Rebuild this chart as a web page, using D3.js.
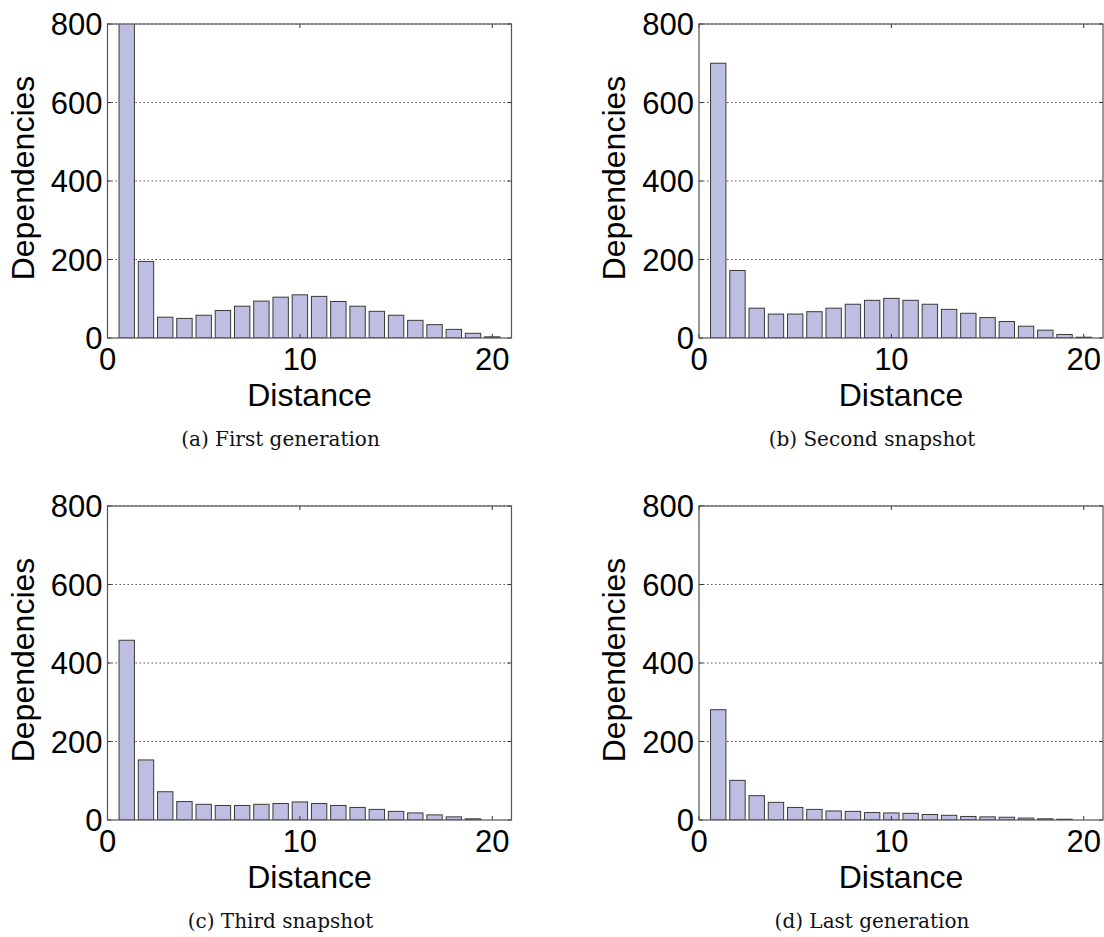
<!DOCTYPE html>
<html>
<head>
<meta charset="utf-8">
<script src="https://cdn.jsdelivr.net/npm/d3@7"></script>
<style>
  body { margin: 0; background: #fff; }
  svg { display: block; }
  .tick-label { font-family: "Liberation Sans", Arial, sans-serif; font-size: 31px; fill: #000; }
  .axis-title { font-family: "Liberation Sans", Arial, sans-serif; font-size: 32px; fill: #000; }
  .caption { font-family: "DejaVu Serif", serif; font-size: 20px; fill: #111; }
</style>
</head>
<body>
<svg id="chart"></svg>
<script>
const distances = [1, 2, 3, 4, 5, 6, 7, 8, 9, 10, 11, 12, 13, 14, 15, 16, 17, 18, 19, 20]
const firstGeneration = [830, 195, 53, 50, 58, 70, 81, 94, 104, 110, 106, 93, 81, 68, 58, 45, 34, 22, 12, 3]
const secondSnapshot = [700, 172, 76, 61, 61, 67, 76, 86, 96, 101, 96, 86, 73, 63, 52, 42, 30, 20, 9, 2]
const thirdSnapshot = [458, 153, 72, 47, 40, 37, 37, 40, 42, 46, 42, 37, 32, 27, 22, 18, 13, 8, 3, 0]
const lastGeneration = [281, 101, 62, 45, 32, 27, 23, 22, 19, 18, 17, 14, 12, 9, 8, 7, 5, 3, 2, 0]
const yTicks = [0, 200, 400, 600, 800]
const xTicks = [0, 10, 20]
const captions = ['(a)  First generation', '(b)  Second snapshot', '(c)  Third snapshot', '(d)  Last generation']

const width = 1104
const height = 937

const svg = d3.select('#chart')
  .attr('width', width)
  .attr('height', height)

// plot box positions (left, top) for each panel
const panels = [
  { left: 107.5, top: 24, values: firstGeneration, caption: captions[0] },
  { left: 699, top: 24, values: secondSnapshot, caption: captions[1] },
  { left: 107.5, top: 506, values: thirdSnapshot, caption: captions[2] },
  { left: 699, top: 506, values: lastGeneration, caption: captions[3] }
]

const plotW = 404
const plotH = 314

panels.forEach((p, i) => drawPanel(p, i))

function drawPanel (p, i) {
  const g = svg.append('g')
    .attr('transform', `translate(${p.left},${p.top})`)

  const x = d3.scaleLinear().domain([0, 21]).range([0, plotW])
  const y = d3.scaleLinear().domain([0, 800]).range([plotH, 0])

  const clipId = 'clip' + i
  g.append('clipPath').attr('id', clipId)
    .append('rect').attr('width', plotW).attr('height', plotH)

  // dotted grid lines
  g.selectAll('.grid')
    .data(yTicks.filter(d => d > 0))
    .enter().append('line')
    .attr('x1', 0)
    .attr('x2', plotW)
    .attr('y1', d => y(d))
    .attr('y2', d => y(d))
    .attr('stroke', '#555')
    .attr('stroke-width', 1)
    .attr('stroke-dasharray', '1.5,2.5')

  // bars
  const barW = x(0.8) - x(0)
  g.append('g').attr('clip-path', `url(#${clipId})`)
    .selectAll('rect')
    .data(distances.map((d, k) => ({ d: d, v: p.values[k] })).filter(b => b.v > 0))
    .enter().append('rect')
    .attr('x', b => x(b.d) - barW / 2)
    .attr('y', b => y(b.v))
    .attr('width', barW)
    .attr('height', b => y(0) - y(b.v))
    .attr('fill', '#bebee3')
    .attr('stroke', '#3a3a3a')
    .attr('stroke-width', 1)

  // inward ticks on all four sides
  const tickLen = 4
  xTicks.forEach(t => {
    g.append('line').attr('x1', x(t)).attr('x2', x(t)).attr('y1', plotH).attr('y2', plotH - tickLen)
      .attr('stroke', '#333')
    g.append('line').attr('x1', x(t)).attr('x2', x(t)).attr('y1', 0).attr('y2', tickLen)
      .attr('stroke', '#333')
  })
  yTicks.forEach(t => {
    g.append('line').attr('x1', 0).attr('x2', tickLen).attr('y1', y(t)).attr('y2', y(t))
      .attr('stroke', '#333')
    g.append('line').attr('x1', plotW).attr('x2', plotW - tickLen).attr('y1', y(t)).attr('y2', y(t))
      .attr('stroke', '#333')
  })

  // box
  g.append('rect')
    .attr('width', plotW)
    .attr('height', plotH)
    .attr('fill', 'none')
    .attr('stroke', '#555')
    .attr('stroke-width', 1.2)

  // tick labels
  g.selectAll('.ylab')
    .data(yTicks)
    .enter().append('text')
    .attr('class', 'tick-label')
    .attr('x', -5)
    .attr('y', d => y(d))
    .attr('dy', '0.36em')
    .attr('text-anchor', 'end')
    .text(d => d)

  g.selectAll('.xlab')
    .data(xTicks)
    .enter().append('text')
    .attr('class', 'tick-label')
    .attr('x', d => x(d))
    .attr('y', plotH + 32)
    .attr('text-anchor', 'middle')
    .text(d => d)

  // axis titles
  g.append('text')
    .attr('class', 'axis-title')
    .attr('x', plotW / 2)
    .attr('y', plotH + 68)
    .attr('text-anchor', 'middle')
    .text('Distance')

  g.append('text')
    .attr('class', 'axis-title')
    .attr('transform', `translate(-74,${plotH / 2 - 3}) rotate(-90)`)
    .attr('text-anchor', 'middle')
    .text('Dependencies')

  // caption
  g.append('text')
    .attr('class', 'caption')
    .attr('x', plotW / 2 - 29)
    .attr('y', plotH + 108)
    .attr('text-anchor', 'middle')
    .text(p.caption)
}
</script>
</body>
</html>
